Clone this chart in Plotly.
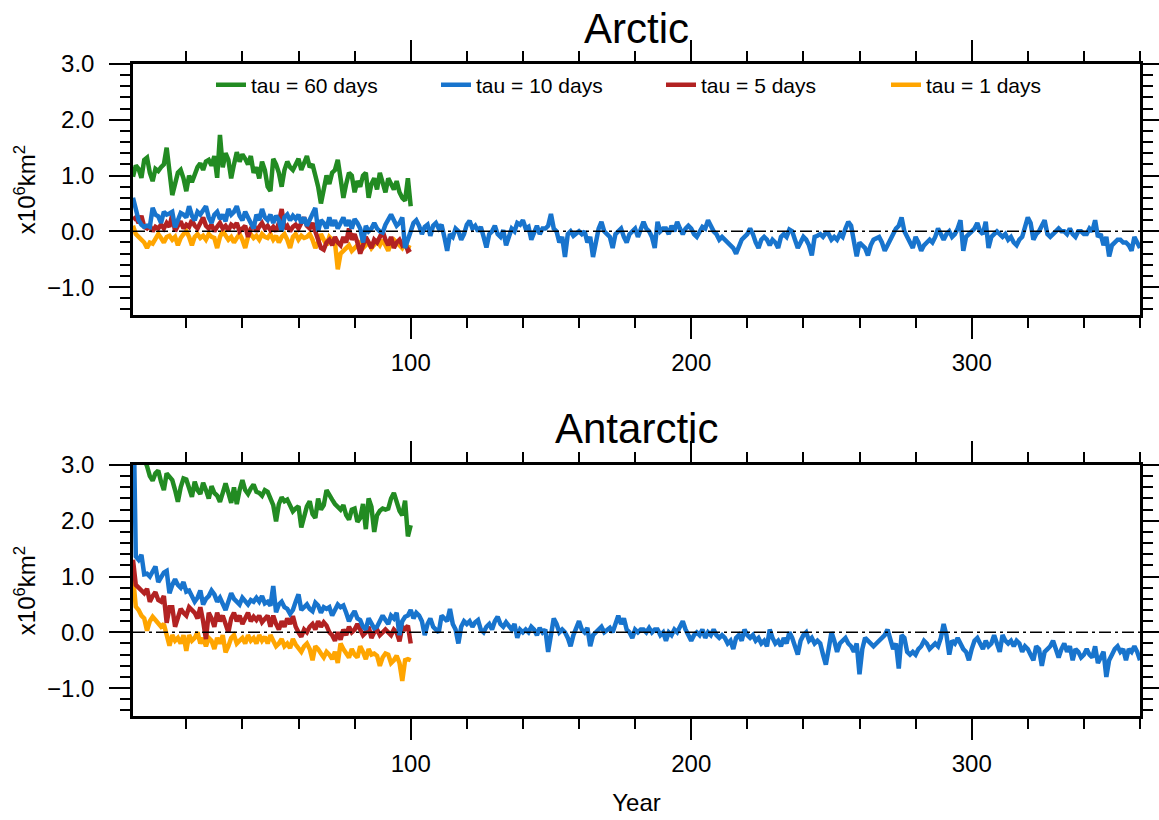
import plotly.graph_objects as go

# ---------------- data ----------------
years_short = list(range(1, 101))
years_long = list(range(1, 361))

arctic_tau60 = [
    0.98, 1.18, 1.12, 0.96, 1.28, 1.32, 1.05, 0.90, 1.12, 1.08,
    1.15, 1.20, 1.50, 1.05, 0.65, 0.85, 1.05, 1.10, 0.95, 0.72,
    1.00, 0.88, 1.05, 1.15, 1.22, 1.10, 1.25, 1.28, 1.18, 1.35,
    0.96, 1.73, 1.15, 1.40, 1.28, 0.95, 1.20, 1.42, 1.25, 1.38,
    1.30, 1.20, 1.35, 1.05, 1.15, 0.95, 1.25, 1.10, 0.80, 0.72,
    1.30, 1.20, 1.05, 0.80, 1.10, 1.25, 1.15, 1.10, 1.20, 1.30,
    1.10, 1.25, 1.35, 1.15, 1.20, 1.00, 0.80, 0.50, 0.75, 1.00,
    0.85, 1.05, 1.10, 1.28, 0.95, 0.60, 0.85, 1.05, 1.00, 0.70,
    0.90, 0.80, 1.00, 1.05, 0.60, 0.85, 0.95, 0.75, 1.05, 0.90,
    0.70, 0.95, 0.85, 0.75, 0.90, 0.70, 0.60, 0.55, 0.95, 0.45,
]

arctic_tau10 = [
    0.60, 0.35, 0.20, 0.12, 0.08, 0.10, 0.08, 0.42, 0.30, 0.27,
    0.15, 0.35, 0.30, 0.32, 0.35, 0.07, 0.22, 0.33, 0.30, 0.25,
    0.45, 0.28, 0.20, 0.35, 0.30, 0.38, 0.45, 0.25, 0.15, 0.30,
    0.35, 0.22, 0.30, 0.18, 0.40, 0.30, 0.35, 0.45, 0.28, 0.20,
    0.35, 0.25, 0.15, 0.05, 0.30, 0.20, 0.40, 0.25, 0.20, 0.30,
    0.15, 0.28, 0.20, 0.00, 0.25, 0.30, 0.20, 0.28, 0.22, 0.30,
    0.15, 0.25, 0.10, 0.20, 0.30, 0.42, 0.00, 0.20, 0.15, 0.05,
    0.25, 0.10, 0.20, 0.05, 0.15, 0.25, 0.10, 0.20, 0.05, 0.22,
    0.15, 0.05, -0.20, 0.10, 0.00, 0.05, 0.15, 0.05, 0.00, -0.02,
    0.12, 0.20, 0.30, 0.20, 0.10, 0.15, 0.25, -0.30, -0.15, 0.05,
    0.15, 0.20, 0.10, -0.05, 0.08, 0.12, -0.08, 0.10, 0.15, 0.05,
    0.12, -0.10, -0.35, -0.05, -0.10, 0.05, 0.00, -0.15, -0.05, 0.12,
    0.19, 0.05, 0.10, 0.00, 0.08, -0.10, -0.29, -0.05, 0.00, 0.10,
    -0.05, -0.10, 0.02, -0.25, -0.10, 0.05, 0.00, 0.15, 0.12, 0.20,
    0.05, 0.08, -0.15, 0.00, 0.10, -0.05, 0.05, 0.05, 0.10, 0.31,
    0.05, 0.00, -0.20, -0.10, -0.46, -0.05, 0.00, -0.08, -0.05, 0.00,
    -0.05, 0.00, -0.20, -0.10, -0.46, -0.15, 0.05, 0.17, 0.00, -0.05,
    -0.10, -0.30, -0.05, 0.00, 0.05, -0.10, -0.20, -0.05, 0.00, 0.05,
    -0.10, 0.05, 0.17, 0.05, 0.00, -0.10, -0.30, 0.17, 0.00, 0.05,
    0.05, -0.05, 0.10, 0.00, 0.17, 0.05, -0.05, 0.05, 0.10, 0.05,
    -0.05, -0.10, 0.00, 0.08, 0.05, 0.20, 0.10, 0.00, -0.05, -0.15,
    -0.10, -0.15, -0.20, -0.25, -0.30, -0.40, -0.25, -0.15, -0.10, -0.05,
    0.05, -0.05, -0.20, -0.30, -0.15, -0.10, -0.15, -0.25, -0.15, -0.20,
    -0.30, -0.10, -0.05, -0.10, 0.03, 0.00, -0.15, -0.30, -0.20, -0.10,
    -0.15, -0.25, -0.43, -0.10, -0.08, -0.05, -0.10, -0.03, -0.05, -0.15,
    -0.10, -0.15, -0.05, -0.10, 0.05, 0.17, 0.10, -0.20, -0.45, -0.20,
    -0.25, -0.30, -0.43, -0.25, -0.15, -0.12, -0.10, -0.20, -0.35, -0.25,
    -0.15, -0.05, 0.05, 0.10, 0.25, 0.00, -0.10, -0.20, -0.30, -0.10,
    -0.20, -0.35, -0.25, -0.20, -0.15, -0.20, -0.10, 0.05, -0.05, -0.15,
    -0.05, 0.00, -0.10, -0.05, 0.05, 0.20, -0.35, -0.10, -0.05, 0.00,
    0.05, 0.15, 0.00, -0.05, 0.17, -0.30, -0.10, -0.05, 0.00, -0.05,
    -0.10, -0.05, -0.15, -0.10, -0.20, -0.25, -0.15, -0.10, 0.05, 0.25,
    0.15, -0.15, -0.05, 0.00, 0.10, 0.20, -0.05, -0.10, -0.05, 0.00,
    0.05, 0.00, 0.00, -0.05, 0.05, -0.05, -0.10, 0.00, 0.00, -0.05,
    -0.05, 0.05, 0.00, 0.20, -0.10, -0.05, -0.25, -0.10, -0.45, -0.25,
    -0.20, -0.15, -0.15, -0.20, -0.20, -0.25, -0.35, -0.10, -0.20, -0.30,
]

arctic_tau5 = [
    0.21, 0.25, 0.15, 0.28, 0.08, 0.05, 0.10, 0.00, 0.08, 0.05,
    0.12, 0.05, 0.15, 0.08, 0.30, 0.00, 0.10, 0.18, 0.05, 0.12,
    0.08, 0.20, 0.10, 0.05, 0.15, 0.25, 0.10, 0.05, 0.12, 0.00,
    0.08, 0.15, 0.05, 0.10, 0.02, 0.12, 0.08, 0.15, 0.00, 0.05,
    0.10, -0.10, 0.05, 0.12, 0.00, 0.08, 0.15, 0.05, 0.10, 0.02,
    0.08, 0.00, 0.15, 0.40, 0.05, 0.10, 0.00, 0.08, 0.12, 0.05,
    0.15, 0.25, 0.10, 0.05, 0.15, 0.00, -0.20, -0.30, -0.33, -0.20,
    -0.15, -0.25, -0.10, -0.20, -0.25, -0.10, -0.20, 0.05, -0.15, -0.05,
    -0.20, -0.40, -0.25, -0.10, -0.20, -0.30, -0.15, -0.20, -0.10, 0.00,
    -0.15, -0.25, -0.10, -0.30, -0.20, -0.15, -0.25, -0.20, -0.35, -0.32,
]

arctic_tau1 = [
    0.10, -0.05, -0.10, -0.15, -0.20, -0.30, -0.20, -0.22, -0.15, -0.05,
    -0.12, -0.20, -0.10, -0.08, -0.15, -0.10, -0.25, -0.12, -0.05, 0.00,
    -0.10, -0.25, -0.10, -0.05, -0.12, -0.08, -0.15, -0.05, -0.10, -0.12,
    -0.30, -0.10, 0.00, -0.08, -0.15, -0.10, -0.20, -0.12, -0.05, -0.15,
    -0.30, -0.10, -0.05, -0.12, -0.08, -0.15, -0.05, -0.10, -0.12, -0.05,
    -0.15, -0.08, -0.20, -0.10, -0.05, -0.15, -0.30, -0.10, -0.05, -0.15,
    -0.08, -0.12, -0.10, -0.05, -0.15, -0.30, -0.20, -0.05, -0.15, -0.25,
    -0.10, -0.15, -0.20, -0.68, -0.40, -0.35, -0.30, -0.25, -0.35, -0.30,
    -0.25, -0.20, -0.30, -0.25, -0.20, -0.30, -0.25, -0.18, -0.25, -0.15,
    -0.25, -0.35, -0.20, -0.15, -0.20, -0.25, -0.30, -0.22, -0.28, -0.30,
]

antarctic_tau60 = [
    3.60, 3.45, 3.30, 3.20, 3.10, 2.98, 2.80, 2.72, 2.85, 2.90,
    2.70, 2.55, 2.85, 2.80, 2.73, 2.55, 2.34, 2.60, 2.76, 2.74,
    2.60, 2.43, 2.70, 2.55, 2.48, 2.68, 2.55, 2.40, 2.62, 2.50,
    2.45, 2.34, 2.50, 2.67, 2.50, 2.32, 2.60, 2.30, 2.55, 2.73,
    2.55, 2.48, 2.58, 2.65, 2.52, 2.50, 2.45, 2.55, 2.52, 2.38,
    2.28, 1.99, 2.30, 2.42, 2.35, 2.38, 2.25, 2.17, 2.22, 2.26,
    1.88, 2.10, 2.26, 2.35, 2.12, 2.05, 2.40, 2.20, 2.28, 2.55,
    2.45, 2.38, 2.30, 2.26, 2.20, 2.28, 2.10, 2.02, 2.20, 2.22,
    1.98, 2.05, 2.30, 1.85, 2.40, 2.25, 1.80, 2.10, 2.18, 2.22,
    2.20, 2.22, 2.40, 2.50, 2.30, 2.18, 2.10, 2.36, 1.72, 1.92,
]

antarctic_tau10 = [
    4.50, 1.36, 1.30, 1.39, 1.04, 1.05, 1.00, 1.10, 1.18, 0.90,
    1.00, 1.07, 1.10, 0.70, 0.85, 0.95, 0.85, 0.80, 0.90, 0.73,
    0.75, 0.65, 0.55, 0.62, 0.75, 0.50, 0.60, 0.65, 0.75, 0.68,
    0.55, 0.62, 0.50, 0.40, 0.55, 0.70, 0.60, 0.55, 0.50, 0.62,
    0.55, 0.50, 0.58, 0.55, 0.62, 0.55, 0.65, 0.52, 0.55, 0.48,
    0.83, 0.36, 0.50, 0.55, 0.45, 0.42, 0.33, 0.40, 0.55, 0.68,
    0.40, 0.45, 0.50, 0.42, 0.38, 0.53, 0.48, 0.35, 0.45, 0.42,
    0.45, 0.30, 0.42, 0.50, 0.45, 0.48, 0.35, 0.20, 0.30, 0.38,
    0.25, 0.22, 0.10, 0.05, 0.25, 0.15, 0.07, 0.10, 0.20, 0.30,
    0.22, 0.15, 0.30, 0.25, 0.35, -0.05, 0.20, 0.28, 0.30, 0.40,
    0.25, 0.35, 0.30, 0.20, -0.05, 0.15, 0.25, 0.10, 0.05, 0.00,
    0.30, 0.25, 0.20, 0.42, 0.15, 0.05, -0.20, 0.10, 0.20, 0.15,
    0.20, 0.10, 0.18, 0.22, 0.05, 0.00, 0.10, 0.15, 0.05, 0.20,
    0.28, 0.15, 0.10, 0.18, 0.12, 0.05, 0.15, -0.10, 0.05, 0.00,
    0.05, 0.00, 0.10, 0.05, -0.05, 0.08, 0.00, 0.05, -0.35, 0.00,
    0.25, 0.15, 0.00, 0.05, 0.00, -0.10, -0.25, -0.05, 0.10, 0.20,
    0.05, 0.00, 0.08, -0.25, -0.05, 0.00, 0.05, 0.10, 0.00, 0.05,
    0.08, 0.00, 0.15, 0.30, 0.15, 0.25, 0.05, 0.00, -0.10, 0.05,
    0.00, 0.05, 0.05, 0.00, 0.08, 0.00, 0.05, 0.05, -0.05, 0.00,
    -0.15, 0.00, -0.05, 0.05, 0.00, 0.10, 0.20, 0.05, -0.05, -0.15,
    -0.05, 0.00, -0.05, 0.05, -0.10, 0.00, -0.05, 0.05, -0.05, -0.10,
    -0.05, -0.10, -0.20, -0.15, -0.30, -0.10, -0.05, -0.15, 0.05, -0.05,
    -0.10, -0.05, -0.15, -0.10, -0.20, -0.15, -0.25, 0.05, -0.10, -0.20,
    -0.15, -0.25, -0.10, -0.20, 0.00, -0.10, -0.25, -0.40, -0.15, -0.05,
    0.00, -0.15, -0.10, -0.20, -0.15, -0.20, -0.40, -0.58, -0.30, 0.00,
    -0.15, -0.35, -0.20, -0.15, -0.10, -0.20, -0.25, -0.35, -0.20, -0.75,
    -0.30, -0.10, -0.15, -0.20, -0.25, -0.20, -0.15, -0.10, -0.05, 0.05,
    -0.10, -0.30, -0.20, -0.65, -0.05, -0.10, -0.35, -0.40, -0.35, -0.40,
    -0.30, -0.25, -0.15, -0.20, -0.30, -0.25, -0.20, -0.25, -0.10, 0.15,
    -0.05, -0.40, -0.15, -0.20, -0.10, -0.20, -0.30, -0.35, -0.50, -0.30,
    -0.15, -0.10, -0.20, -0.30, -0.15, -0.25, -0.20, -0.05, -0.20, -0.35,
    -0.05, -0.15, -0.20, -0.15, -0.25, -0.15, -0.20, -0.35, -0.25, -0.30,
    -0.40, -0.50, -0.25, -0.30, -0.60, -0.35, -0.30, -0.25, -0.15, -0.30,
    -0.45, -0.30, -0.20, -0.35, -0.25, -0.50, -0.30, -0.35, -0.45, -0.40,
    -0.30, -0.40, -0.45, -0.25, -0.55, -0.45, -0.35, -0.80, -0.50, -0.40,
    -0.30, -0.25, -0.35, -0.30, -0.50, -0.30, -0.35, -0.25, -0.35, -0.50,
]

antarctic_tau5 = [
    1.30, 0.85, 0.80, 0.75, 0.70, 0.78, 0.55, 0.65, 0.72, 0.58,
    0.55, 0.65, 0.17, 0.45, 0.45, 0.10, 0.30, 0.42, 0.35, 0.30,
    0.45, 0.40, 0.35, 0.25, 0.45, 0.20, -0.12, 0.35, 0.25, 0.10,
    0.35, 0.20, 0.30, 0.15, 0.00, 0.25, 0.35, 0.20, 0.30, 0.15,
    0.25, 0.35, 0.20, 0.28, 0.22, 0.30, 0.18, 0.25, 0.30, 0.10,
    0.30, 0.15, 0.05, 0.20, 0.10, 0.25, 0.15, 0.29, 0.10, 0.00,
    -0.08, 0.05, 0.00, 0.10, 0.15, 0.05, 0.20, 0.10, 0.18, 0.12,
    0.00, -0.05, -0.15, 0.00, -0.13, 0.05, -0.05, 0.10, 0.00, 0.05,
    0.15, 0.05, -0.05, 0.00, 0.10, -0.10, 0.00, 0.05, -0.05, 0.00,
    0.05, 0.00, -0.05, 0.05, 0.00, -0.16, 0.10, 0.06, 0.12, -0.20,
]

antarctic_tau1 = [
    1.00, 0.46, 0.40, 0.30, 0.25, 0.03, 0.20, 0.28, 0.22, 0.15,
    0.10, 0.15, -0.06, -0.24, -0.05, -0.15, -0.10, -0.20, -0.05, -0.33,
    -0.05, -0.15, -0.10, 0.00, -0.20, -0.10, -0.25, -0.10, -0.15, -0.30,
    -0.10, -0.20, -0.05, -0.36, -0.25, -0.10, -0.05, -0.20, -0.15, -0.10,
    -0.20, -0.05, -0.15, -0.10, -0.20, -0.05, -0.15, -0.08, -0.20, -0.05,
    -0.15, -0.25, -0.20, -0.12, -0.25, -0.20, -0.28, -0.12, -0.22, -0.30,
    -0.35, -0.25, -0.20, -0.30, -0.50, -0.25, -0.30, -0.38, -0.45, -0.35,
    -0.40, -0.48, -0.35, -0.55, -0.20, -0.30, -0.38, -0.45, -0.30, -0.40,
    -0.45, -0.25, -0.35, -0.48, -0.30, -0.40, -0.38, -0.42, -0.60, -0.45,
    -0.38, -0.40, -0.55, -0.50, -0.42, -0.55, -0.87, -0.50, -0.48, -0.50,
]

panel_titles = ["Arctic", "Antarctic"]
series_names = ["tau = 60 days", "tau = 10 days", "tau = 5 days", "tau = 1 days"]
series_colors = ["#228B22", "#1874CD", "#B22222", "#FFA500"]
x_tickvals = [100, 200, 300]
y_tickvals = [-1, 0, 1, 2, 3]

# ---------------- figure ----------------
W, H = 1159, 820
FONT = "Liberation Sans, Arial, Helvetica, sans-serif"
PLOT_L, PLOT_R = 133, 1140
panel_px = [(64, 315), (465, 716)]

panel_data = [
    (arctic_tau60, arctic_tau10, arctic_tau5, arctic_tau1),
    (antarctic_tau60, antarctic_tau10, antarctic_tau5, antarctic_tau1),
]

fig = go.Figure()

for p, (d60, d10, d5, d1) in enumerate(panel_data):
    xa = "x" if p == 0 else "x2"
    ya = "y" if p == 0 else "y2"
    # draw order: tau=1 first, tau=60 last
    order = [(3, years_short, d1), (2, years_short, d5), (1, years_long, d10), (0, years_short, d60)]
    for idx, xs, ys in order:
        fig.add_trace(go.Scatter(
            x=xs, y=ys, mode="lines", name=series_names[idx],
            line=dict(color=series_colors[idx], width=4.5),
            xaxis=xa, yaxis=ya, legendgroup=series_names[idx],
            legendrank=idx + 1, showlegend=(p == 0), hoverinfo="skip",
        ))

axis_common_x = dict(
    range=[1, 360], tickmode="array", tickvals=x_tickvals,
    ticks="outside", ticklen=21, tickwidth=2, tickcolor="black",
    showline=True, linewidth=2.5, linecolor="black", mirror="ticks",
    showgrid=False, zeroline=False, automargin=False,
    tickfont=dict(family=FONT, size=24, color="black"),
    ticklabelstandoff=3,
    minor=dict(dtick=20, tick0=0, ticks="outside", ticklen=10, tickwidth=1.5,
               tickcolor="black", showgrid=False),
)
axis_common_y = dict(
    range=[-1.5, 3.0], tickmode="array", tickvals=y_tickvals, tickformat=".1f",
    ticks="outside", ticklen=21, tickwidth=2, tickcolor="black",
    showline=True, linewidth=2.5, linecolor="black", mirror="ticks",
    showgrid=False, zeroline=False, automargin=False,
    tickfont=dict(family=FONT, size=24, color="black"),
    ticklabelstandoff=10,
    minor=dict(dtick=0.2, tick0=0, ticks="outside", ticklen=10, tickwidth=1.5,
               tickcolor="black", showgrid=False),
    title=dict(text="x10<sup>6</sup>km<sup>2</sup>", font=dict(family=FONT, size=24, color="black"),
               standoff=5),
)

xdom = [PLOT_L / W, PLOT_R / W]
layout_axes = {}
for p, (top, bot) in enumerate(panel_px):
    ydom = [1 - bot / H, 1 - top / H]
    xk = "xaxis" if p == 0 else "xaxis2"
    yk = "yaxis" if p == 0 else "yaxis2"
    layout_axes[xk] = dict(axis_common_x, domain=xdom, anchor="y" if p == 0 else "y2")
    layout_axes[yk] = dict(axis_common_y, domain=ydom, anchor="x" if p == 0 else "x2")

layout_axes["xaxis2"]["title"] = dict(text="Year", font=dict(family=FONT, size=24, color="black"),
                                      standoff=19)

annotations = []
title_y_px = [28, 428]
for p, t in enumerate(panel_titles):
    annotations.append(dict(
        text=t, x=(PLOT_L + PLOT_R) / 2 / W, y=1 - title_y_px[p] / H,
        xref="paper", yref="paper", xanchor="center", yanchor="middle",
        showarrow=False, font=dict(family=FONT, size=42, color="black"),
    ))

shapes = []
for p in range(2):
    shapes.append(dict(
        type="line", xref="x domain" if p == 0 else "x2 domain", yref="y" if p == 0 else "y2",
        x0=0, x1=1, y0=0, y1=0, layer="above",
        line=dict(color="black", width=1.5, dash="12px,4px,3px,4px"),
    ))

fig.update_layout(
    width=W, height=H, margin=dict(l=0, r=0, t=0, b=0, autoexpand=False),
    paper_bgcolor="white", plot_bgcolor="white",
    font=dict(family=FONT, color="black"),
    annotations=annotations, shapes=shapes,
    legend=dict(
        orientation="h", x=211 / W, y=1 - 85 / H, xanchor="left", yanchor="middle",
        font=dict(family=FONT, size=21, color="black"),
        bgcolor="rgba(0,0,0,0)", borderwidth=0,
        entrywidth=180, entrywidthmode="pixels", itemwidth=30,
    ),
    **layout_axes,
)

fig.write_html(
    "out.html",
    config={"displayModeBar": False},
    post_script="document.body.style.margin='0px';document.body.style.padding='0px';",
)
